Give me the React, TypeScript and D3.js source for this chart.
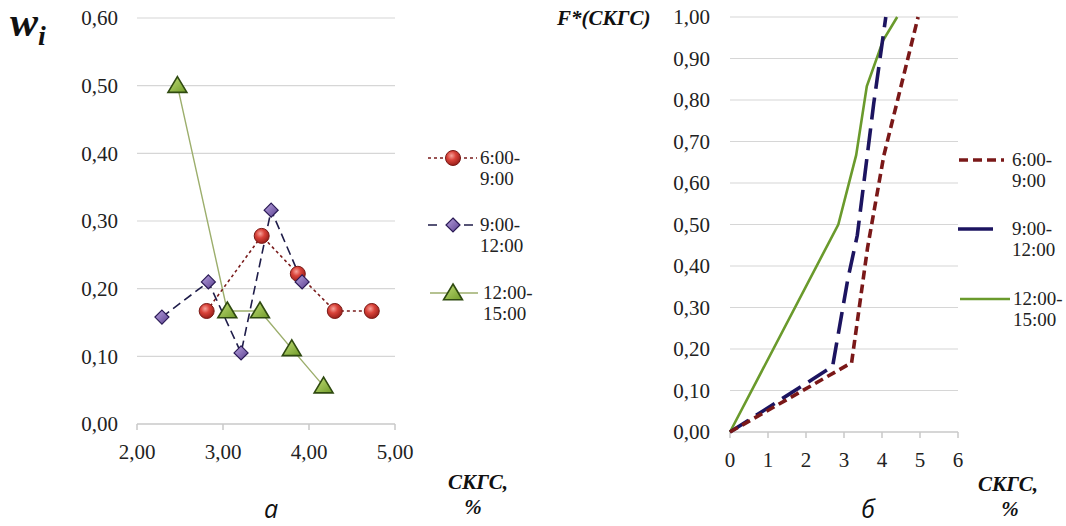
import React from "react";
import * as d3 from "d3";

// ---------- data: chart а (frequencies) ----------
const seriesNames = ["6:00-\n9:00", "9:00-\n12:00", "12:00-\n15:00"];
const redX = [2.81, 3.45, 3.87, 4.3, 4.73];
const redW = [0.167, 0.278, 0.222, 0.167, 0.167];
const purpleX = [2.29, 2.83, 3.21, 3.56, 3.92];
const purpleW = [0.158, 0.21, 0.105, 0.316, 0.21];
const greenX = [2.47, 3.05, 3.43, 3.8, 4.17];
const greenW = [0.5, 0.167, 0.167, 0.111, 0.056];
const leftYTicks = [0, 0.1, 0.2, 0.3, 0.4, 0.5, 0.6];
const leftXTicks = [2, 3, 4, 5];

// ---------- data: chart б (cumulative) ----------
const redFX = [0, 3.2, 3.62, 4.05, 4.5, 4.95];
const redF = [0, 0.167, 0.444, 0.667, 0.833, 1.0];
const navyFX = [0, 2.7, 3.1, 3.35, 3.78, 4.1];
const navyF = [0, 0.158, 0.368, 0.474, 0.79, 1.0];
const greenFX = [0, 2.85, 3.32, 3.6, 4.03, 4.4];
const greenF = [0, 0.5, 0.667, 0.833, 0.944, 1.0];
const rightYTicks = [0, 0.1, 0.2, 0.3, 0.4, 0.5, 0.6, 0.7, 0.8, 0.9, 1.0];
const rightXTicks = [0, 1, 2, 3, 4, 5, 6];

const serif = "Liberation Serif, DejaVu Serif, serif";
const sans = "Open Sans, DejaVu Sans, sans-serif";
const fmt2 = (v: number) => v.toFixed(2).replace(".", ",");

const zip = (xs: number[], ys: number[]) => xs.map((x, i) => [x, ys[i]] as [number, number]);

const serifStyle = { fontFamily: serif };
const titleStyle = { fontFamily: serif, fontWeight: "bold" as const, fontStyle: "italic" as const };

export default function App() {
  const lx = d3.scaleLinear().domain([2, 5]).range([137, 395]);
  const ly = d3.scaleLinear().domain([0, 0.6]).range([424, 18]);
  const rx = d3.scaleLinear().domain([0, 6]).range([730, 958]);
  const ry = d3.scaleLinear().domain([0, 1]).range([432, 17]);

  const lLine = d3.line<[number, number]>().x((d) => lx(d[0])).y((d) => ly(d[1]));
  const rLine = d3.line<[number, number]>().x((d) => rx(d[0])).y((d) => ry(d[1]));

  const red = zip(redX, redW);
  const purple = zip(purpleX, purpleW);
  const green = zip(greenX, greenW);

  const diamond = (cx: number, cy: number, r: number) =>
    `M${cx},${cy - r}L${cx + r},${cy}L${cx},${cy + r}L${cx - r},${cy}Z`;
  const tri = (cx: number, cy: number, r: number) =>
    `M${cx},${cy - r}L${cx + r * 1.05},${cy + r * 0.75}L${cx - r * 1.05},${cy + r * 0.75}Z`;

  const legendText = (x: number, y: number, label: string, key: string) => {
    const parts = label.split("\n");
    return (
      <text key={key} x={x} y={y} style={serifStyle} fontSize={19} fill="#222">
        <tspan x={x} dy={0}>{parts[0]}</tspan>
        <tspan x={x} dy={21}>{parts[1]}</tspan>
      </text>
    );
  };

  return (
    <svg width={1066} height={526} style={{ display: "block", position: "absolute", left: 0, top: 0 }}>
      <defs>
        <radialGradient id="redBall" cx="40%" cy="35%" r="65%">
          <stop offset="0%" stopColor="#f6a39b" />
          <stop offset="45%" stopColor="#d9433a" />
          <stop offset="100%" stopColor="#9b1f1a" />
        </radialGradient>
        <linearGradient id="purpleG" x1="0" y1="0" x2="1" y2="1">
          <stop offset="0%" stopColor="#b9a3e0" />
          <stop offset="100%" stopColor="#5a3f8f" />
        </linearGradient>
        <linearGradient id="greenG" x1="0" y1="0" x2="1" y2="1">
          <stop offset="0%" stopColor="#c4e07a" />
          <stop offset="100%" stopColor="#6f9a28" />
        </linearGradient>
      </defs>
      <rect x={0} y={0} width={1066} height={526} fill="#fff" />

      {/* ================= LEFT CHART (а) ================= */}
      {leftYTicks.map((t) => (
        <g key={"lg" + t}>
          <line x1={lx(2)} x2={lx(5)} y1={ly(t)} y2={ly(t)} stroke={t === 0 ? "#c8c8c8" : "#d6d6d6"} strokeWidth={t === 0 ? 1.5 : 1.2} />
          <text x={118} y={ly(t)} dy="0.35em" textAnchor="end" style={serifStyle} fontSize={21} fill="#222">
            {fmt2(t)}
          </text>
        </g>
      ))}
      {leftXTicks.map((t) => (
        <g key={"lx" + t}>
          <line x1={lx(t)} x2={lx(t)} y1={ly(0)} y2={ly(0) + 6} stroke="#c8c8c8" strokeWidth={1.5} />
          <text x={lx(t)} y={452} dy="0.35em" textAnchor="middle" style={serifStyle} fontSize={21} fill="#222">
            {fmt2(t)}
          </text>
        </g>
      ))}

      <path d={lLine(green) || ""} fill="none" stroke="#9cae6c" strokeWidth={1.4} />
      <path d={lLine(red) || ""} fill="none" stroke="#7a1c1c" strokeWidth={1.6} strokeDasharray="3,3" />
      <path d={lLine(purple) || ""} fill="none" stroke="#1f1d4a" strokeWidth={1.6} strokeDasharray="9,5" />

      {red.map((d, i) => (
        <circle key={"rc" + i} cx={lx(d[0])} cy={ly(d[1])} r={7.5} fill="url(#redBall)" stroke="#7a1a16" strokeWidth={1} />
      ))}
      {purple.map((d, i) => (
        <path key={"pd" + i} d={diamond(lx(d[0]), ly(d[1]), 7)} fill="url(#purpleG)" stroke="#2a1a55" strokeWidth={1.2} />
      ))}
      {green.map((d, i) => (
        <path key={"gt" + i} d={tri(lx(d[0]), ly(d[1]), 9)} fill="url(#greenG)" stroke="#2f4a10" strokeWidth={1.6} />
      ))}

      {/* left legend */}
      <line x1={428} x2={477} y1={158} y2={158} stroke="#7a1c1c" strokeWidth={1.6} strokeDasharray="3,3" />
      <circle cx={453} cy={158} r={7.5} fill="url(#redBall)" stroke="#7a1a16" strokeWidth={1} />
      {legendText(480, 158 + 6, seriesNames[0], "lt0")}
      <line x1={428} x2={478} y1={225} y2={225} stroke="#1f1d4a" strokeWidth={1.6} strokeDasharray="9,9" />
      <path d={diamond(453, 225, 7)} fill="url(#purpleG)" stroke="#2a1a55" strokeWidth={1.2} />
      {legendText(480, 225 + 6, seriesNames[1], "lt1")}
      <line x1={430} x2={478} y1={293} y2={293} stroke="#9cae6c" strokeWidth={1.4} />
      <path d={tri(453, 293, 9)} fill="url(#greenG)" stroke="#2f4a10" strokeWidth={1.6} />
      {legendText(483, 293 + 6, seriesNames[2], "lt2")}

      {/* left titles */}
      <text x={10} y={36} style={titleStyle} fontSize={42} fill="#111">
        w
        <tspan fontSize={28} dy={9}>i</tspan>
      </text>
      <text x={478} y={489} textAnchor="middle" style={titleStyle} fontSize={21} fill="#111">
        СКГС,
      </text>
      <text x={473} y={514} textAnchor="middle" style={titleStyle} fontSize={21} fill="#111">
        %
      </text>
      <text x={271} y={518} textAnchor="middle" style={{ fontFamily: sans, fontStyle: "italic" }} fontSize={25} fill="#111">
        а
      </text>

      {/* ================= RIGHT CHART (б) ================= */}
      {rightYTicks.map((t) => (
        <g key={"rg" + t}>
          <line x1={rx(0)} x2={rx(6)} y1={ry(t)} y2={ry(t)} stroke={t === 0 ? "#c8c8c8" : "#d6d6d6"} strokeWidth={t === 0 ? 1.5 : 1.2} />
          <text x={710} y={ry(t)} dy="0.35em" textAnchor="end" style={serifStyle} fontSize={21} fill="#222">
            {fmt2(t)}
          </text>
        </g>
      ))}
      {rightXTicks.map((t) => (
        <g key={"rx" + t}>
          <line x1={rx(t)} x2={rx(t)} y1={ry(0)} y2={ry(0) + 6} stroke="#c8c8c8" strokeWidth={1.5} />
          <text x={rx(t)} y={460} dy="0.35em" textAnchor="middle" style={serifStyle} fontSize={21} fill="#222">
            {t}
          </text>
        </g>
      ))}

      <path d={rLine(zip(greenFX, greenF)) || ""} fill="none" stroke="#6a9a2c" strokeWidth={2.6} />
      <path d={rLine(zip(navyFX, navyF)) || ""} fill="none" stroke="#1c1460" strokeWidth={3.6} strokeDasharray="22,9" />
      <path d={rLine(zip(redFX, redF)) || ""} fill="none" stroke="#7a1818" strokeWidth={3.6} strokeDasharray="9,5" />

      {/* right legend */}
      <line x1={959} x2={1004} y1={160} y2={160} stroke="#7a1818" strokeWidth={3.6} strokeDasharray="9,5" />
      {legendText(1012, 160 + 6, seriesNames[0], "rt0")}
      <line x1={958} x2={993} y1={229} y2={229} stroke="#1c1460" strokeWidth={3.6} />
      {legendText(1012, 229 + 6, seriesNames[1], "rt1")}
      <line x1={960} x2={1010} y1={299} y2={299} stroke="#6a9a2c" strokeWidth={2.6} />
      {legendText(1013, 299 + 6, seriesNames[2], "rt2")}

      {/* right titles */}
      <text x={557} y={25} style={titleStyle} fontSize={21} fill="#111">
        F*(СКГС)
      </text>
      <text x={1008} y={491} textAnchor="middle" style={titleStyle} fontSize={21} fill="#111">
        СКГС,
      </text>
      <text x={1010} y={516} textAnchor="middle" style={titleStyle} fontSize={21} fill="#111">
        %
      </text>
      <text x={868} y={518} textAnchor="middle" style={{ fontFamily: sans, fontStyle: "italic" }} fontSize={25} fill="#111">
        б
      </text>
    </svg>
  );
}
